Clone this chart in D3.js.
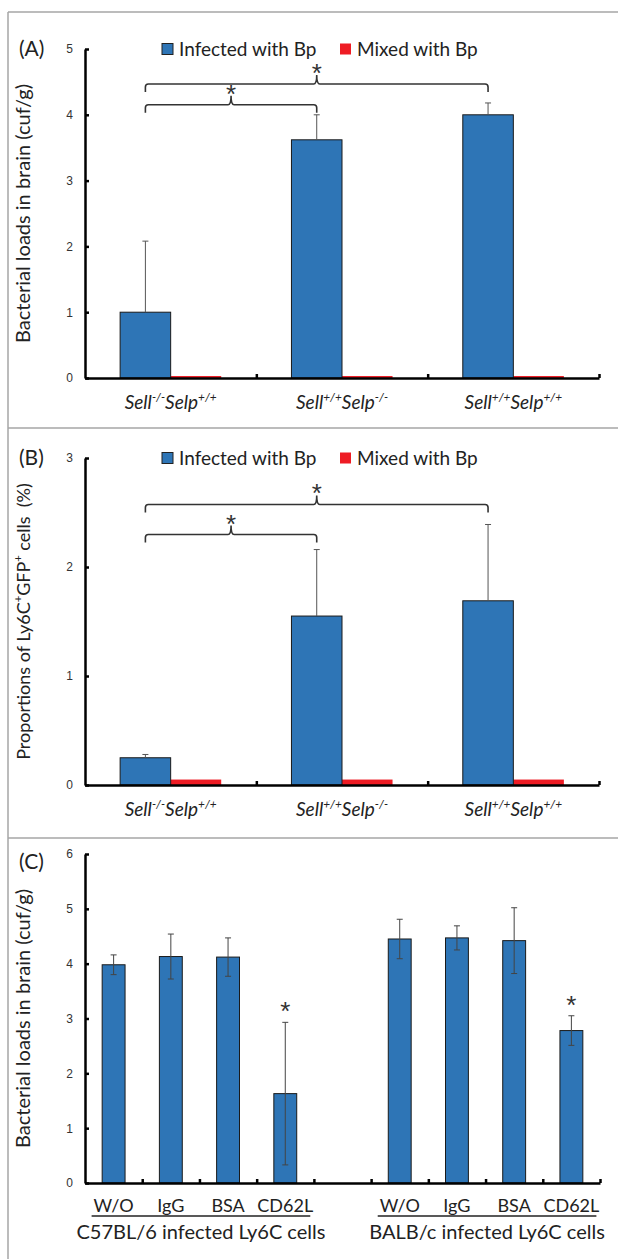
<!DOCTYPE html>
<html>
<head>
<meta charset="utf-8">
<script src="https://cdn.jsdelivr.net/npm/d3@7"></script>
<style>
body { margin: 0; background: #fff; }
svg { display: block; font-family: Lato, 'Liberation Sans', sans-serif; }
</style>
</head>
<body>
<div class="container"></div>
<script>
const WIDTH = 618;
const HEIGHT = 1259;
const X0 = 85;
const X1 = 599;
const BLUE = '#2e75b6';
const RED = '#ee1c24';

// panels A and B
const series = ['Infected with Bp', 'Mixed with Bp'];
const sellSup = ['-/-', '+/+', '+/+'];
const selpSup = ['+/+', '-/-', '+/+'];
const loadsInfected = [1.0, 3.62, 4.0];
const loadsInfectedErr = [1.08, 0.38, 0.18];
const loadsMixed = [0.03, 0.03, 0.03];
const ly6cInfected = [0.25, 1.55, 1.69];
const ly6cInfectedErr = [0.03, 0.61, 0.70];
const ly6cMixed = [0.05, 0.05, 0.05];
const comparisons = [[0, 1], [0, 2]];
const ticksA = [0, 1, 2, 3, 4, 5];
const ticksB = [0, 1, 2, 3];

// panel C
const treatments = ['W/O', 'IgG', 'BSA', 'CD62L'];
const mouseGroups = ['C57BL/6 infected Ly6C cells', 'BALB/c infected Ly6C cells'];
const c57Loads = [3.98, 4.13, 4.12, 1.63];
const c57Err = [0.18, 0.41, 0.35, 1.30];
const balbLoads = [4.45, 4.47, 4.42, 2.78];
const balbErr = [0.36, 0.22, 0.60, 0.27];
const significantC = ['CD62L'];
const ticksC = [0, 1, 2, 3, 4, 5, 6];

var _svg = d3.select('.container').append('svg').attr('width', WIDTH).attr('height', HEIGHT);

var richText = function (sel, parts, size) {
    parts.forEach(function (p, i) {
        var prevSup = i > 0 && parts[i - 1].sup;
        sel.append('tspan')
            .attr('font-size', p.sup ? size * 0.62 : size)
            .attr('dy', p.sup ? -size * 0.42 : (prevSup ? size * 0.42 : null))
            .text(p.t);
    });
};

var strainParts = function (i) {
    return [{t: 'Sell'}, {t: sellSup[i], sup: true}, {t: 'Selp'}, {t: selpSup[i], sup: true}];
};

var styleAxis = function (g, fontSize) {
    g.select('.domain').attr('stroke', '#000').attr('stroke-width', 2.5);
    g.selectAll('.tick line').attr('stroke', '#000').attr('stroke-width', 2.5);
    g.selectAll('.tick text').attr('font-size', fontSize).attr('fill', '#333').attr('font-family', null);
};

var drawFrame = function () {
    var fg = _svg.append('g').attr('stroke', '#a6a6a6').attr('stroke-width', 1.5);
    fg.append('line').attr('x1', 8).attr('x2', 8).attr('y1', 12).attr('y2', HEIGHT);
    [12, 428, 838].forEach(function (yy) {
        fg.append('line').attr('x1', 8).attr('x2', WIDTH).attr('y1', yy).attr('y2', yy);
    });
};

var drawYTitle = function (y, parts, size) {
    var yc = (y.range()[0] + y.range()[1]) / 2;
    var t = _svg.append('text')
        .attr('transform', 'translate(30,' + yc + ') rotate(-90)')
        .attr('text-anchor', 'middle')
        .attr('fill', '#222')
        .style('white-space', 'pre');
    richText(t, parts, size);
};

var drawStar = function (cx, yy) {
    _svg.append('text').attr('x', cx).attr('y', yy)
        .attr('text-anchor', 'middle').attr('font-size', 26)
        .attr('font-family', "'Liberation Sans', sans-serif")
        .attr('fill', '#333').text('*');
};

var drawStrainPanel = function (opt) {
    var y = d3.scaleLinear().domain([0, opt.yMax]).range([opt.bottom, opt.top]);
    var x0 = d3.scaleBand().domain(d3.range(3)).range([X0, X1])
        .paddingInner(0.41).paddingOuter(0.205);
    var x1 = d3.scaleBand().domain(series).range([0, x0.bandwidth()]);
    var g = _svg.append('g');

    g.selectAll('.mixed').data(opt.mixed).enter().append('rect')
        .attr('x', function (d, i) { return x0(i) + x1(series[1]); })
        .attr('y', function (d) { return y(d); })
        .attr('width', x1.bandwidth())
        .attr('height', function (d) { return y(0) - y(d); })
        .attr('fill', RED);

    g.selectAll('.infected').data(opt.infected).enter().append('rect')
        .attr('x', function (d, i) { return x0(i) + x1(series[0]); })
        .attr('y', function (d) { return y(d); })
        .attr('width', x1.bandwidth())
        .attr('height', function (d) { return y(0) - y(d); })
        .attr('fill', BLUE).attr('stroke', '#1a1a1a').attr('stroke-width', 1);

    var cxOf = function (i) { return x0(i) + x1(series[0]) + x1.bandwidth() / 2; };

    var eg = g.append('g').attr('stroke', '#555').attr('stroke-width', 1);
    opt.infected.forEach(function (d, i) {
        var cx = cxOf(i);
        eg.append('line').attr('x1', cx).attr('x2', cx).attr('y1', y(d)).attr('y2', y(d + opt.err[i]));
        eg.append('line').attr('x1', cx - 3).attr('x2', cx + 3)
            .attr('y1', y(d + opt.err[i])).attr('y2', y(d + opt.err[i]));
    });

    var yAxis = _svg.append('g').attr('transform', 'translate(' + X0 + ',0)')
        .call(d3.axisLeft(y).tickValues(opt.ticks).tickFormat(d3.format('d'))
            .tickSize(-4).tickSizeOuter(0).tickPadding(12));
    styleAxis(yAxis, 12);

    var xTick = d3.scaleLinear().domain([0, 3]).range([X0, X1]);
    var xAxis = _svg.append('g').attr('transform', 'translate(0,' + opt.bottom + ')')
        .call(d3.axisBottom(xTick).tickValues([1, 2, 3]).tickSize(-4).tickSizeOuter(0).tickFormat(''));
    styleAxis(xAxis, 12);

    d3.range(3).forEach(function (i) {
        var t = _svg.append('text')
            .attr('x', x0(i) + x0.bandwidth() / 2)
            .attr('y', opt.bottom + 31)
            .attr('text-anchor', 'middle')
            .attr('font-style', 'italic')
            .attr('fill', '#222');
        richText(t, strainParts(i), 19);
    });

    // significance brackets
    var bg = _svg.append('g');
    comparisons.forEach(function (c, k) {
        var xa = cxOf(c[0]);
        var xb = cxOf(c[1]);
        var cx = (xa + xb) / 2;
        var top = d3.max(d3.range(c[0], c[1] + 1), function (i) { return opt.infected[i] + opt.err[i]; });
        var by = y(top) - opt.lift[k];
        var p = d3.path();
        p.moveTo(xa, by + 8);
        p.lineTo(xa, by + 3);
        p.quadraticCurveTo(xa, by, xa + 3, by);
        p.lineTo(cx - 3, by);
        p.quadraticCurveTo(cx, by, cx, by - 9);
        p.quadraticCurveTo(cx, by, cx + 3, by);
        p.lineTo(xb - 3, by);
        p.quadraticCurveTo(xb, by, xb, by + 3);
        p.lineTo(xb, by + 8);
        bg.append('path').attr('d', p.toString())
            .attr('fill', 'none').attr('stroke', '#333').attr('stroke-width', 1.6);
        drawStar(cx, by - 2);
    });

    // legend
    var lg = _svg.append('g').attr('transform', 'translate(162,' + opt.top + ')');
    series.forEach(function (s, i) {
        var item = lg.append('g').attr('transform', 'translate(' + (i * 178) + ',0)');
        item.append('rect').attr('x', 0).attr('y', -5.5).attr('width', 11).attr('height', 11)
            .attr('fill', i === 0 ? BLUE : RED)
            .attr('stroke', i === 0 ? '#222' : 'none').attr('stroke-width', 1);
        item.append('text').attr('x', 17).attr('y', 6.5).attr('font-size', 19).attr('fill', '#222').text(s);
    });

    _svg.append('text').attr('x', 19).attr('y', opt.top + 7)
        .attr('font-size', 21).attr('fill', '#222').text(opt.label);

    drawYTitle(y, opt.title, opt.titleSize);
};

var drawTreatmentPanel = function () {
    var top = 854, bottom = 1183;
    var y = d3.scaleLinear().domain([0, 6]).range([bottom, top]);
    var x = d3.scaleBand().domain(d3.range(9)).range([X0, 600]).paddingInner(0.6).paddingOuter(0.3);
    var slot = function (g, t) { return g * 5 + t; };
    var groupsData = [{loads: c57Loads, err: c57Err}, {loads: balbLoads, err: balbErr}];
    var g = _svg.append('g');
    var eg = _svg.append('g').attr('stroke', '#444').attr('stroke-width', 1);

    groupsData.forEach(function (grp, gi) {
        g.selectAll('.bar' + gi).data(grp.loads).enter().append('rect')
            .attr('x', function (d, i) { return x(slot(gi, i)); })
            .attr('y', function (d) { return y(d); })
            .attr('width', x.bandwidth())
            .attr('height', function (d) { return y(0) - y(d); })
            .attr('fill', BLUE).attr('stroke', '#1a1a1a').attr('stroke-width', 1);

        grp.loads.forEach(function (d, i) {
            var cx = x(slot(gi, i)) + x.bandwidth() / 2;
            var hi = y(d + grp.err[i]), lo = y(d - grp.err[i]);
            eg.append('line').attr('x1', cx).attr('x2', cx).attr('y1', hi).attr('y2', lo);
            eg.append('line').attr('x1', cx - 3).attr('x2', cx + 3).attr('y1', hi).attr('y2', hi);
            eg.append('line').attr('x1', cx - 3).attr('x2', cx + 3).attr('y1', lo).attr('y2', lo);
            if (significantC.indexOf(treatments[i]) >= 0) {
                drawStar(cx, hi - 2);
            }
            _svg.append('text').attr('x', cx).attr('y', bottom + 29)
                .attr('text-anchor', 'middle').attr('font-size', 18).attr('fill', '#222').text(treatments[i]);
        });

        var gx0 = x(slot(gi, 0)) + x.bandwidth() / 2 - 22;
        var gx1 = x(slot(gi, 3)) + x.bandwidth() / 2 + 25;
        _svg.append('line').attr('x1', gx0).attr('x2', gx1)
            .attr('y1', bottom + 33).attr('y2', bottom + 33)
            .attr('stroke', '#222').attr('stroke-width', 1.5);
        _svg.append('text').attr('x', (gx0 + gx1) / 2).attr('y', bottom + 56)
            .attr('text-anchor', 'middle').attr('font-size', 20).attr('fill', '#222').text(mouseGroups[gi]);
    });

    var yAxis = _svg.append('g').attr('transform', 'translate(' + X0 + ',0)')
        .call(d3.axisLeft(y).tickValues(ticksC).tickFormat(d3.format('d'))
            .tickSize(-4).tickSizeOuter(0).tickPadding(12));
    styleAxis(yAxis, 12);

    var xTick = d3.scaleLinear().domain([0, 9]).range([X0, 600]);
    var xAxis = _svg.append('g').attr('transform', 'translate(0,' + bottom + ')')
        .call(d3.axisBottom(xTick).tickValues(d3.range(1, 10)).tickSize(-4).tickSizeOuter(0).tickFormat(''));
    styleAxis(xAxis, 12);

    _svg.append('text').attr('x', 19).attr('y', top + 15)
        .attr('font-size', 21).attr('fill', '#222').text('(C)');

    drawYTitle(y, [{t: 'Bacterial loads in brain (cuf/g)'}], 20);
};

drawFrame();
drawStrainPanel({
    label: '(A)', top: 49, bottom: 378, yMax: 5, ticks: ticksA,
    infected: loadsInfected, err: loadsInfectedErr, mixed: loadsMixed,
    lift: [10, 19], titleSize: 20,
    title: [{t: 'Bacterial loads in brain (cuf/g)'}]
});
drawStrainPanel({
    label: '(B)', top: 458, bottom: 785, yMax: 3, ticks: ticksB,
    infected: ly6cInfected, err: ly6cInfectedErr, mixed: ly6cMixed,
    lift: [15, 20], titleSize: 18,
    title: [{t: 'Proportions of Ly6C'}, {t: '+', sup: true}, {t: 'GFP'}, {t: '+', sup: true}, {t: ' cells  (%)'}]
});
drawTreatmentPanel();
</script>
</body>
</html>
